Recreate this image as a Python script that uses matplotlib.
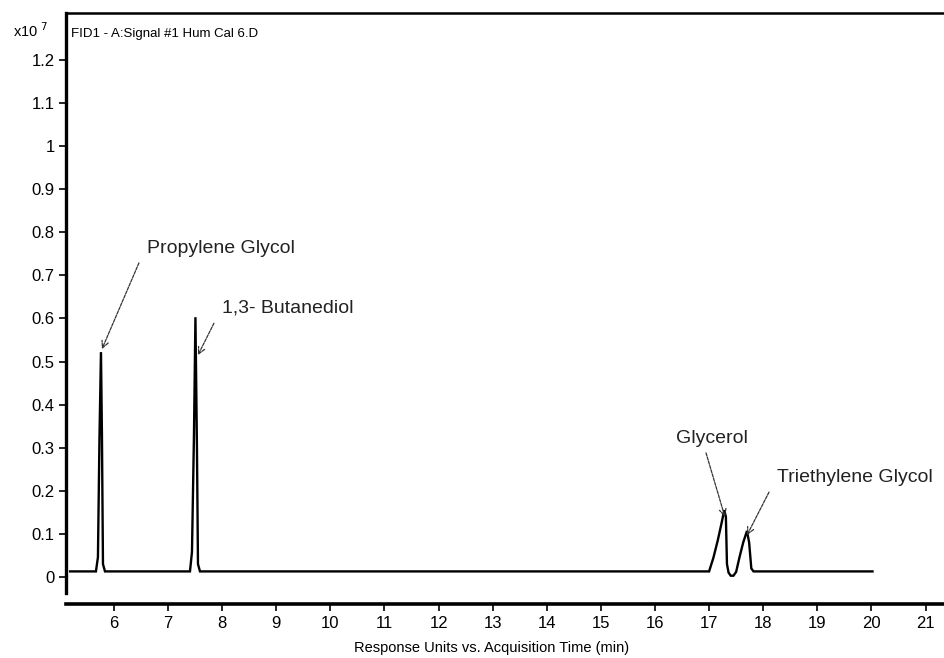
import matplotlib.pyplot as plt

plt.rcParams['font.family'] = ['Liberation Sans', 'DejaVu Sans']

# FID1 trace: acquisition time (min) vs response (x10^7 units)
time_min = [5.19, 5.667, 5.704, 5.732, 5.760, 5.778, 5.797, 5.834,
            7.405, 7.442, 7.479, 7.506, 7.534, 7.553, 7.590,
            17.00, 17.08, 17.16, 17.23, 17.28, 17.31, 17.33, 17.36,
            17.40, 17.45, 17.50, 17.56, 17.63, 17.70, 17.74, 17.78,
            17.82, 20.02]
response = [0.013, 0.013, 0.046, 0.320, 0.522, 0.330, 0.030, 0.013,
            0.013, 0.058, 0.330, 0.603, 0.300, 0.030, 0.013,
            0.013, 0.045, 0.085, 0.125, 0.155, 0.140, 0.030, 0.010,
            0.003, 0.003, 0.012, 0.045, 0.080, 0.107, 0.080, 0.020,
            0.013, 0.013]

peak_names = ["Propylene Glycol", "1,3- Butanediol", "Glycerol", "Triethylene Glycol"]
arrow_tips = [(5.778, 0.529), (7.553, 0.515), (17.294, 0.139), (17.70, 0.097)]
arrow_tails = [(6.462, 0.729), (7.848, 0.589), (16.943, 0.288), (18.107, 0.197)]
label_pos = [(6.61, 0.753), (7.996, 0.615), (16.39, 0.312), (18.255, 0.220)]

y_ticks = [0, 0.1, 0.2, 0.3, 0.4, 0.5, 0.6, 0.7, 0.8, 0.9, 1.0, 1.1, 1.2]
y_tick_labels = ["0", "0.1", "0.2", "0.3", "0.4", "0.5", "0.6", "0.7", "0.8",
                 "0.9", "1", "1.1", "1.2"]
x_ticks = list(range(6, 22))

fig = plt.figure(figsize=(9.45, 6.58), dpi=100)
ax = fig.add_axes([0.0698, 0.0821, 0.9302, 0.8981])

ax.plot(time_min, response, color="black", linewidth=1.7, solid_joinstyle="miter")

for name, tip, tail, pos in zip(peak_names, arrow_tips, arrow_tails, label_pos):
    ax.annotate("", xy=tip, xytext=tail,
                arrowprops=dict(arrowstyle="->", color="#333333", lw=0.9,
                                linestyle=(0, (2.5, 1)), shrinkA=0, shrinkB=0,
                                mutation_scale=12))
    ax.text(pos[0], pos[1], name, fontsize=14, color="#222222",
            ha="left", va="baseline")

ax.set_xlim(5.113, 21.36)
ax.set_ylim(-0.0626, 1.309)
ax.set_xticks(x_ticks)
ax.set_xticklabels([str(t) for t in x_ticks])
ax.set_yticks(y_ticks)
ax.set_yticklabels(y_tick_labels)
ax.tick_params(axis="y", labelsize=12, length=5, width=1.2, pad=3, direction="out")
ax.tick_params(axis="x", labelsize=12, length=5, width=1.2, pad=4, direction="out")

ax.spines["right"].set_visible(False)
ax.spines["top"].set_linewidth(1.8)
ax.spines["left"].set_linewidth(2.4)
ax.spines["left"].set_bounds(-0.037, 1.309)
ax.spines["bottom"].set_linewidth(2.6)

ax.text(0.006, 0.975, "FID1 - A:Signal #1 Hum Cal 6.D", transform=ax.transAxes,
        fontsize=9.5, ha="left", va="top")
fig.text(13 / 945, 1 - 37 / 658, r"x10$^{\ 7}$", fontsize=10.5, ha="left",
         va="baseline")
fig.text(491.5 / 945, 1 - 648 / 658, "Response Units vs. Acquisition Time (min)",
         fontsize=10.5, ha="center", va="center")

fig.savefig("out.png", dpi=100)
